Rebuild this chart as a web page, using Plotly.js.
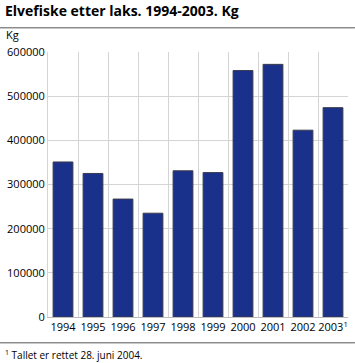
<!DOCTYPE html>
<html><head><meta charset="utf-8">
<script src="https://cdn.plot.ly/plotly-3.0.1.min.js"></script>
<style>html,body{margin:0;padding:0;background:#fff}#c{width:355px;height:363px}</style>
</head><body><div id="c"></div>
<script>
const years = ["1994","1995","1996","1997","1998","1999","2000","2001","2002","2003"];
const tickLabels = ["1994","1995","1996","1997","1998","1999","2000","2001","2002","2003<sup>1</sup>"];
const catch_kg = [351000, 325000, 267000, 235000, 331000, 327000, 558000, 572000, 423000, 474000];
const yTicks = [0,100000,200000,300000,400000,500000,600000];

const F = "Open Sans, Noto Sans, sans-serif";
const trace = {
  type: "bar", x: years, y: catch_kg,
  marker: {color: "#1a318c", line: {color: "#3a3a4a", width: 1}},
  hoverinfo: "skip"
};
const rule = (y) => ({text: " ", xref: "paper", yref: "paper", x: -0.16, y: y, xanchor: "left", yanchor: "middle",
  showarrow: false, width: 355, height: 1, borderpad: 0, borderwidth: 0, bgcolor: "#8c8c8c", font: {size: 1}});
const layout = {
  width: 355, height: 363,
  margin: {l: 48, r: 7, t: 52, b: 46},
  paper_bgcolor: "#fff", plot_bgcolor: "#fff",
  showlegend: false,
  bargap: 0.34,
  font: {family: F, size: 11, color: "#000"},
  title: {text: "<b>Elvefiske etter laks. 1994-2003. Kg</b>", x: 0.014, xanchor: "left", y: 0.982, yanchor: "top",
          font: {family: F, size: 14, color: "#000"}},
  xaxis: {type: "category", tickvals: years, ticktext: tickLabels, tickson: "boundaries", tickangle: 0,
          showgrid: true, gridcolor: "#d4d4d4", gridwidth: 1, ticks: "", showline: true, linecolor: "#bdbdbd",
          tickfont: {family: F, size: 11}, fixedrange: true},
  yaxis: {range: [0, 600000], tickvals: yTicks, ticktext: yTicks.map(String), showgrid: true, gridcolor: "#d4d4d4",
          showline: true, linecolor: "#d4d4d4", zeroline: false, ticks: "", ticklen: 0,
          tickfont: {family: F, size: 11}, fixedrange: true},
  annotations: [
    {text: "Kg", xref: "paper", yref: "paper", x: -0.147, y: 1.066, xanchor: "left", yanchor: "middle", showarrow: false, font: {family: F, size: 11}},
    {text: "<sup>1</sup> Tallet er rettet 28. juni 2004.", xref: "paper", yref: "paper", x: -0.15, y: -0.143, xanchor: "left", yanchor: "middle", showarrow: false, font: {family: F, size: 10}},
    rule(1.0906), rule(-0.098)
  ],
  shapes: [
    {type: "line", xref: "paper", yref: "paper", x0: -0.16, x1: 1.023, y0: 1.0906, y1: 1.0906, line: {color: "#8c8c8c", width: 1}},
    {type: "line", xref: "paper", yref: "paper", x0: -0.16, x1: 1.023, y0: -0.098, y1: -0.098, line: {color: "#8c8c8c", width: 1}}
  ]
};
Plotly.newPlot("c", [trace], layout, {displayModeBar: false, staticPlot: true});
</script></body></html>
